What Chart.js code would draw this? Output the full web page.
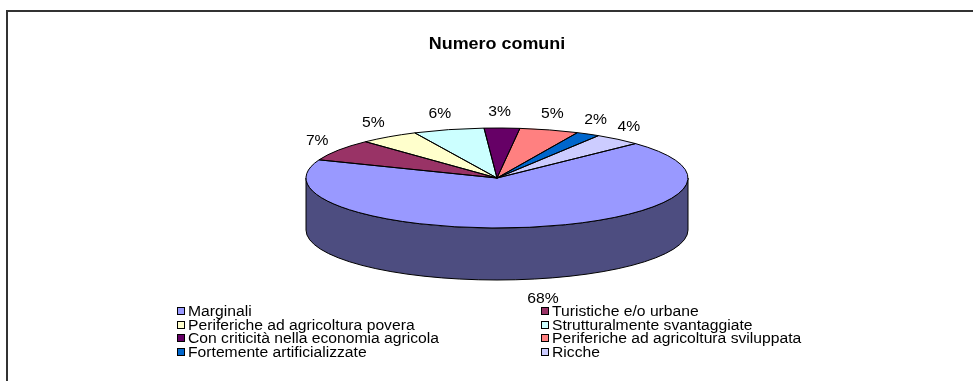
<!DOCTYPE html>
<html>
<head>
<meta charset="utf-8">
<title>Numero comuni</title>
<script src="https://cdn.jsdelivr.net/npm/chart.js@4.4.0/dist/chart.umd.min.js"></script>
<style>
  html, body { margin: 0; padding: 0; background: #fff; }
  #wrap { width: 973px; height: 381px; position: relative; }
</style>
</head>
<body>
<div id="wrap"><canvas id="myChart"></canvas></div>
<script>
// Comuni by type (% of total)
var chartTitle = 'Numero comuni';
var categories = [
  'Marginali',
  'Turistiche e/o urbane',
  'Periferiche ad agricoltura povera',
  'Strutturalmente svantaggiate',
  'Con criticità nella economia agricola',
  'Periferiche ad agricoltura sviluppata',
  'Fortemente artificializzate',
  'Ricche'
];
var shares = [68, 7, 5, 6, 3, 5, 2, 4];
var colors = ['#9999FF', '#993366', '#FFFFCC', '#CCFFFF', '#660066', '#FF8080', '#0066CC', '#CCCCFF'];

var FONT = '"Liberation Sans", Arial, sans-serif';
var STRETCH = 1.12;   // text is drawn a bit wide

// ellipse used for the tilted pie
var CX = 497, CY = 178, RX = 191, RY = 50, DEPTH = 52;

function shade(hex, f) {
  var n = parseInt(hex.slice(1), 16);
  var r = Math.round(((n >> 16) & 255) * f);
  var g = Math.round(((n >> 8) & 255) * f);
  var b = Math.round((n & 255) * f);
  return 'rgb(' + r + ',' + g + ',' + b + ')';
}

// parts of [s, e] lying on the front half (0..PI, screen angles)
function frontPart(s, e) {
  var out = [];
  for (var k = -1; k <= 1; k++) {
    var lo = Math.max(s, 2 * Math.PI * k);
    var hi = Math.min(e, 2 * Math.PI * k + Math.PI);
    if (hi > lo) out.push([lo, hi]);
  }
  return out;
}

function wideText(ctx, text, x, y) {
  ctx.save();
  ctx.translate(x, y);
  ctx.scale(STRETCH, 1);
  ctx.fillText(text, 0, 0);
  ctx.restore();
}

var pie3d = {
  id: 'pie3d',
  beforeDraw: function(chart) {
    var ctx = chart.ctx;
    ctx.save();
    ctx.strokeStyle = '#333';
    ctx.lineWidth = 2;
    ctx.strokeRect(7, 11, 1000, 500);
    ctx.restore();
  },
  beforeDatasetsDraw: function(chart) {
    var ctx = chart.ctx;
    var arcs = chart.getDatasetMeta(0).data;
    ctx.save();
    // side wall
    arcs.forEach(function(arc, i) {
      frontPart(arc.startAngle, arc.endAngle).forEach(function(r) {
        ctx.beginPath();
        ctx.ellipse(CX, CY, RX, RY, 0, r[0], r[1]);
        ctx.ellipse(CX, CY + DEPTH, RX, RY, 0, r[1], r[0], true);
        ctx.closePath();
        ctx.fillStyle = shade(colors[i], 0.5);
        ctx.fill();
        ctx.lineWidth = 1;
        ctx.strokeStyle = '#000';
        ctx.stroke();
      });
    });
    // squash the pie into the top face
    var a0 = arcs[0];
    ctx.translate(CX, CY);
    ctx.scale(RX / a0.outerRadius, RY / a0.outerRadius);
    ctx.translate(-a0.x, -a0.y);
  },
  afterDatasetsDraw: function(chart) {
    var ctx = chart.ctx;
    ctx.restore();
    var arcs = chart.getDatasetMeta(0).data;
    var values = chart.data.datasets[0].data;
    ctx.save();
    ctx.lineWidth = 1;
    ctx.strokeStyle = '#000';
    arcs.forEach(function(arc) {
      ctx.beginPath();
      ctx.moveTo(CX, CY);
      ctx.ellipse(CX, CY, RX, RY, 0, arc.startAngle, arc.endAngle);
      ctx.closePath();
      ctx.stroke();
    });
    // percentage labels
    ctx.fillStyle = '#000';
    ctx.font = '14px ' + FONT;
    ctx.textAlign = 'center';
    ctx.textBaseline = 'middle';
    arcs.forEach(function(arc, i) {
      var m = (arc.startAngle + arc.endAngle) / 2;
      var c = Math.cos(m), s = Math.sin(m);
      var tx = CX - 3 + (RX + 22) * c + (s > 0 ? 8 : 0);
      var ty = CY + (RY + 16) * s + (s > 0 ? DEPTH + 4 : 0);
      wideText(ctx, values[i] + '%', tx, ty);
    });
    ctx.restore();
  },
  afterDraw: function(chart) {
    var ctx = chart.ctx;
    ctx.save();
    // title
    ctx.fillStyle = '#000';
    ctx.font = 'bold 16px ' + FONT;
    ctx.textAlign = 'center';
    ctx.textBaseline = 'middle';
    wideText(ctx, chartTitle, 497, 45);
    // two-column legend
    var colX = [177, 541], y0 = 311, step = 13.7;
    ctx.font = '14px ' + FONT;
    ctx.textAlign = 'left';
    categories.forEach(function(name, i) {
      var x = colX[i % 2];
      var y = Math.round(y0 + Math.floor(i / 2) * step);
      ctx.fillStyle = colors[i];
      ctx.fillRect(x, y - 4, 8, 8);
      ctx.strokeStyle = '#000';
      ctx.lineWidth = 1;
      ctx.strokeRect(x + 0.5, y - 3.5, 7, 7);
      ctx.fillStyle = '#000';
      wideText(ctx, name, x + 11, y + 1);
    });
    ctx.restore();
  }
};

new Chart(document.getElementById('myChart'), {
  type: 'pie',
  data: {
    labels: categories,
    datasets: [{
      data: shares,
      backgroundColor: colors,
      borderWidth: 0,
      clip: false
    }]
  },
  options: {
    responsive: true,
    maintainAspectRatio: false,
    devicePixelRatio: 1,
    animation: false,
    rotation: 46.5,
    layout: { padding: { top: 70, left: 22 } },
    plugins: {
      legend: { display: false },
      tooltip: { enabled: false },
      title: { display: false }
    }
  },
  plugins: [pie3d]
});
</script>
</body>
</html>
